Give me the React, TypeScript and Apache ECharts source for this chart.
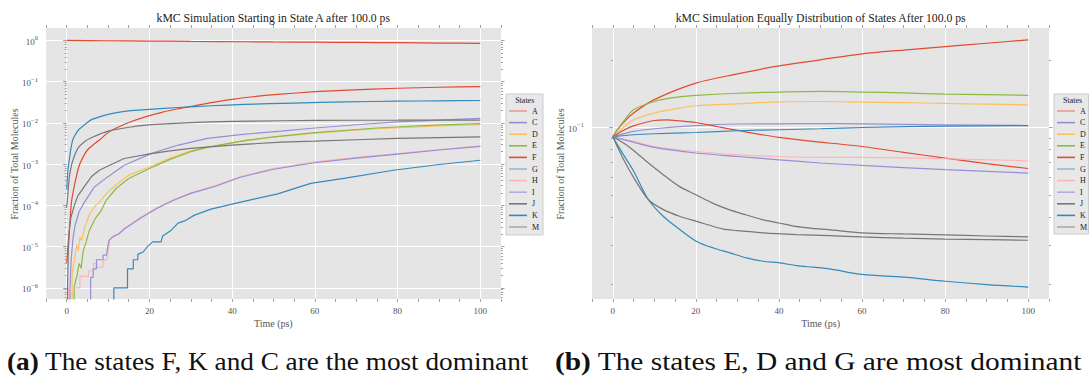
import React, { useEffect, useRef } from 'react';
import * as echarts from 'echarts';

const FONT = '"Liberation Serif", "DejaVu Serif", serif';
const STATES = ['A', 'C', 'D', 'E', 'F', 'G', 'H', 'I', 'J', 'K', 'M'];
const LINE_COLORS: Record<string, string> = {
  A: '#E24A33', C: '#988ED5', D: '#FBC15E', E: '#8EBA42', F: '#E24A33', G: '#348ABD',
  H: '#FFB5B8', I: '#988ED5', J: '#777777', K: '#348ABD', M: '#777777',
};
const LEGEND_COLORS: Record<string, string> = {
  A: '#ec9a8d', C: '#988ED5', D: '#FBC15E', E: '#8EBA42', F: '#E24A33', G: '#8ebbd8',
  H: '#FFB5B8', I: '#b3acdf', J: '#777777', K: '#348ABD', M: '#aaaaaa',
};
const LEFT_SMOOTH = ['A', 'F', 'K', 'J'];

// x axis (time, ps)
const X_MIN = -5;
const X_MAX = 105;
const X_LABELS = [0, 20, 40, 60, 80, 100];

// left chart: log y axis
const LEFT_Y_MIN = 5.37e-7;
const LEFT_Y_MAX = 1.995;
const LEFT_MAJOR = [1e-6, 1e-5, 1e-4, 1e-3, 1e-2, 1e-1, 1];
const LEFT_DECADES = [1e-7, 1e-6, 1e-5, 1e-4, 1e-3, 1e-2, 1e-1, 1];
// right chart: log y axis
const RIGHT_Y_MIN = 0.01726;
const RIGHT_Y_MAX = 0.277;
const RIGHT_MAJOR = [0.1];
const RIGHT_DECADES = [0.01, 0.1];
const MINOR_MULT = [2, 3, 4, 5, 6, 7, 8, 9];

// ---------- left chart: start in state A ----------
const leftA = [[0, 1.0], [10, 0.98], [20, 0.963], [30, 0.945], [43, 0.925], [50, 0.915], [60, 0.905], [70, 0.893], [80, 0.878], [90, 0.862], [100, 0.846]];
const leftF = [[0, 4e-6], [0.3, 1e-5], [0.64, 2.5e-5], [0.9, 6e-5], [1.2, 1.3e-4], [2, 3.5e-4], [3, 9e-4], [4, 1.5e-3], [5, 2.2e-3], [6.5, 3e-3], [8, 3.9e-3], [10, 5.8e-3], [12, 7.5e-3], [15, 1.02e-2], [19, 1.4e-2], [23, 1.8e-2], [27, 2.2e-2], [30, 2.5e-2], [35, 3.1e-2], [40, 3.7e-2], [45, 4.3e-2], [51, 4.9e-2], [60, 5.7e-2], [68, 6.2e-2], [80, 6.9e-2], [90, 7.3e-2], [100, 7.6e-2]];
const leftK = [[0, 2.4e-4], [0.3, 7e-4], [0.65, 1.3e-3], [1, 2.3e-3], [1.45, 3.8e-3], [2, 5e-3], [3, 7e-3], [4.7, 9.7e-3], [6, 1.2e-2], [7.9, 1.4e-2], [10, 1.6e-2], [15, 1.95e-2], [20, 2.12e-2], [27, 2.36e-2], [35, 2.6e-2], [43, 2.8e-2], [55, 3.02e-2], [67.6, 3.23e-2], [80, 3.35e-2], [90, 3.43e-2], [100, 3.49e-2]];
const leftJ = [[0, 8.9e-5], [0.3, 2e-4], [0.65, 4.9e-4], [1.45, 1.2e-3], [2.7, 2.4e-3], [4.3, 3.5e-3], [6.5, 4.6e-3], [10, 6.3e-3], [14, 7.5e-3], [19, 8.8e-3], [25, 9.6e-3], [35, 1.06e-2], [45, 1.1e-2], [60, 1.15e-2], [80, 1.16e-2], [100, 1.17e-2]];
const leftC = [[0.8, 1e-9], [0.8, 1e-6], [1.1, 5e-6], [1.5, 1.5e-5], [2, 3.2e-5], [3, 7e-5], [4.3, 1.2e-4], [6.7, 2.8e-4], [9.9, 4.9e-4], [13.9, 9.4e-4], [20.4, 1.8e-3], [27, 2.9e-3], [34, 4.2e-3], [42, 5.2e-3], [51.8, 6.3e-3], [60, 7.5e-3], [70, 9e-3], [80, 1.06e-2], [90, 1.17e-2], [100, 1.28e-2]];
const leftM = [[0.2, 1e-9], [0.2, 1e-6], [0.4, 8e-6], [0.65, 2.5e-5], [1, 5e-5], [1.85, 1e-4], [2.7, 1.7e-4], [4.3, 2.9e-4], [6, 5e-4], [7.9, 7.1e-4], [10, 9e-4], [13.9, 1.37e-3], [20.4, 1.8e-3], [25, 2.1e-3], [30, 2.4e-3], [40, 2.9e-3], [51.8, 3.4e-3], [60, 3.6e-3], [70, 3.9e-3], [80, 4.2e-3], [90, 4.4e-3], [100, 4.6e-3]];
const leftD = [[1.3, 1e-9], [1.3, 2e-6], [1.5, 3e-6], [2, 5.6e-6], [2.4, 1.1e-5], [2.8, 8e-6], [3.2, 1.7e-5], [3.6, 1.4e-5], [4.2, 2.6e-5], [5.5, 6e-5], [7, 1e-4], [8, 1.2e-4], [9.5, 1.9e-4], [12, 3.2e-4], [15, 5.4e-4], [20, 8.5e-4], [25, 1.4e-3], [30, 2.1e-3], [34, 2.6e-3], [43, 3.7e-3], [50, 4.5e-3], [60, 5.6e-3], [75, 7.2e-3], [90, 8.4e-3], [100, 9.1e-3]];
const leftE = [[1.8, 1e-9], [1.8, 1.05e-6], [2.5, 2e-6], [3, 3.9e-6], [3.5, 3e-6], [4, 8e-6], [4.6, 1.2e-5], [5.5, 2.5e-5], [7, 5e-5], [8.2, 7e-5], [9.5, 1.3e-4], [12, 2.6e-4], [15, 4.5e-4], [20, 7.8e-4], [25, 1.3e-3], [30, 2e-3], [34, 2.55e-3], [43, 3.7e-3], [50, 4.6e-3], [60, 5.8e-3], [75, 7.5e-3], [90, 8.9e-3], [100, 9.6e-3]];
const leftH = [[0.4, 1e-9], [0.4, 1e-6], [3.2, 1e-6], [3.2, 1.9e-6], [5.3, 1.9e-6], [5.3, 2.6e-6], [6.5, 2.6e-6], [6.5, 3.9e-6], [7.2, 3.9e-6], [7.2, 3.2e-6], [8.8, 3.2e-6], [8.8, 4.5e-6], [9.8, 5e-6], [10.4, 1.4e-5], [11.6, 1.9e-5], [12.5, 2e-5], [14, 2.8e-5], [16, 3.8e-5], [18, 5.2e-5], [22, 9e-5], [26, 1.4e-4], [30, 2e-4], [36, 3e-4], [42, 5e-4], [50, 7.8e-4], [60, 1.13e-3], [70, 1.45e-3], [80, 1.8e-3], [90, 2.25e-3], [100, 2.77e-3]];
const leftI = [[5.8, 1e-9], [5.8, 1.8e-6], [6.4, 1.8e-6], [6.4, 2.9e-6], [7.2, 2.9e-6], [7.2, 4.8e-6], [8.8, 4.8e-6], [8.8, 6.2e-6], [9.6, 6.2e-6], [10.2, 1.4e-5], [11, 1.7e-5], [12.5, 2e-5], [14, 2.7e-5], [16, 3.7e-5], [18, 5e-5], [22, 8.6e-5], [26, 1.35e-4], [30, 1.95e-4], [36, 2.9e-4], [42, 4.8e-4], [50, 7.5e-4], [60, 1.08e-3], [70, 1.4e-3], [80, 1.75e-3], [90, 2.2e-3], [100, 2.7e-3]];
const leftG = [[11.4, 1e-9], [11.4, 1e-6], [14.7, 1e-6], [14.7, 2.9e-6], [16.1, 2.9e-6], [16.1, 4.8e-6], [17.2, 4.8e-6], [17.2, 6.5e-6], [18.5, 7.4e-6], [19.5, 1e-5], [20.8, 1.3e-5], [22.8, 1.3e-5], [23.2, 1.8e-5], [25.3, 2.5e-5], [26.9, 3.7e-5], [28.5, 4.2e-5], [30.9, 5.8e-5], [34.9, 8.1e-5], [40.5, 1.1e-4], [45, 1.4e-4], [51, 1.9e-4], [59, 3.4e-4], [67, 4.5e-4], [79, 7.1e-4], [90, 9.8e-4], [100, 1.24e-3]];

// ---------- right chart: equal start distribution ----------
const rightA = [[0, 0.0909], [1, 0.097], [2.5, 0.105], [5, 0.116], [10, 0.133], [20, 0.1575], [30, 0.173], [40, 0.188], [50, 0.2], [60, 0.2126], [70, 0.221], [80, 0.229], [90, 0.237], [100, 0.2454]];
const rightE = [[0, 0.0909], [1, 0.097], [2.5, 0.106], [5, 0.1199], [10, 0.1305], [15, 0.136], [20, 0.1388], [30, 0.142], [40, 0.1437], [50, 0.1446], [60, 0.1437], [70, 0.1425], [80, 0.1407], [90, 0.14], [100, 0.139]];
const rightD = [[0, 0.0909], [2.5, 0.1], [5, 0.1082], [10, 0.1159], [15, 0.121], [20, 0.1249], [30, 0.1274], [40, 0.13], [50, 0.1305], [60, 0.1297], [70, 0.129], [80, 0.1279], [90, 0.127], [100, 0.1261]];
const rightF = [[0, 0.0909], [2.5, 0.097], [5, 0.1017], [10, 0.1074], [13, 0.108], [16, 0.107], [20, 0.1052], [25, 0.101], [30, 0.097], [40, 0.0903], [52, 0.0853], [60, 0.0823], [70, 0.0775], [80, 0.0731], [90, 0.069], [100, 0.0657]];
const rightC = [[0, 0.0909], [5, 0.096], [10, 0.0987], [20, 0.102], [30, 0.1036], [40, 0.1038], [50, 0.104], [60, 0.1038], [80, 0.1028], [100, 0.102]];
const rightG = [[0, 0.0909], [5, 0.0928], [10, 0.0938], [20, 0.095], [30, 0.0967], [40, 0.0977], [50, 0.0987], [60, 0.1], [80, 0.1014], [100, 0.102]];
const rightH = [[0, 0.0909], [5, 0.0867], [10, 0.0823], [20, 0.0782], [30, 0.0756], [40, 0.0743], [50, 0.0736], [60, 0.0736], [80, 0.0726], [100, 0.0711]];
const rightI = [[0, 0.0909], [5, 0.086], [10, 0.0815], [20, 0.077], [30, 0.0743], [40, 0.0718], [50, 0.0695], [60, 0.0678], [80, 0.0649], [100, 0.0627]];
const rightJ = [[0, 0.0909], [2.6, 0.0852], [5, 0.079], [8, 0.071], [12, 0.062], [16, 0.0547], [20, 0.0502], [24, 0.0461], [28, 0.0431], [32, 0.0409], [36, 0.0389], [40, 0.0376], [44, 0.0363], [48, 0.0356], [52, 0.0351], [60, 0.034], [70, 0.0336], [80, 0.0333], [90, 0.0329], [100, 0.0326]];
const rightM = [[0, 0.0909], [2.6, 0.072], [5, 0.06], [8.6, 0.0477], [12.2, 0.0431], [16.2, 0.0402], [20.2, 0.0382], [26.6, 0.0353], [30, 0.0348], [36.2, 0.034], [44.2, 0.0334], [52.2, 0.033], [60, 0.0326], [70, 0.0322], [80, 0.0319], [90, 0.0317], [100, 0.0315]];
const rightK = [[0, 0.0909], [2.6, 0.0755], [5, 0.064], [8.6, 0.0477], [12.2, 0.0402], [16.2, 0.0351], [20.2, 0.0311], [24.2, 0.0291], [28.2, 0.0277], [32.2, 0.0263], [36.2, 0.0254], [40.2, 0.025], [44.2, 0.0243], [48.2, 0.0239], [52.2, 0.0235], [60, 0.0222], [70, 0.0216], [80, 0.0207], [90, 0.02], [100, 0.0195]];

const LEFT_SERIES: Record<string, number[][]> = { A: leftA, C: leftC, D: leftD, E: leftE, F: leftF, G: leftG, H: leftH, I: leftI, J: leftJ, K: leftK, M: leftM };
const RIGHT_SERIES: Record<string, number[][]> = { A: rightA, C: rightC, D: rightD, E: rightE, F: rightF, G: rightG, H: rightH, I: rightI, J: rightJ, K: rightK, M: rightM };

const TICK_COLOR = '#a0a0a0';
const LABEL_COLOR = '#555555';
const T = 'rgba(0,0,0,0)';

function minorTicks(decades: number[], lo: number, hi: number) {
  const out: number[] = [];
  decades.forEach((d) => MINOR_MULT.forEach((m) => {
    const v = +(d * m).toPrecision(3);
    if (v > lo && v < hi) out.push(v);
  }));
  return out;
}

function logLabel(v: number) {
  const e = Math.round(Math.log10(v));
  const s = e < 0 ? '\u2212' + -e : String(e);
  return '{b|10}{s|' + s + '}';
}

const LOG_RICH = {
  b: { fontSize: 9, fontFamily: FONT, color: LABEL_COLOR, lineHeight: 12, verticalAlign: 'bottom' },
  s: { fontSize: 6.5, fontFamily: FONT, color: LABEL_COLOR, lineHeight: 12, verticalAlign: 'top' },
};

function xAxes(gridIndex: number) {
  const base = {
    type: 'value', gridIndex, min: X_MIN, max: X_MAX, interval: 5,
    axisLine: { show: false },
    axisTick: { show: true, inside: false, length: 3, lineStyle: { color: TICK_COLOR, width: 1 } },
  };
  return [
    {
      ...base, position: 'bottom',
      axisLabel: {
        show: true, margin: 7, fontSize: 9, fontFamily: FONT, color: LABEL_COLOR,
        formatter: (v: number) => (X_LABELS.indexOf(v) >= 0 ? String(v) : ''),
      },
      splitLine: { show: true, lineStyle: { color: [T, '#ffffff', T, T], width: 1 } },
    },
    { ...base, position: 'top', axisLabel: { show: false }, splitLine: { show: false } },
  ];
}

function yAxes(gridIndex: number, min: number, max: number, major: number[], minor: number[]) {
  const base = { type: 'log', logBase: 10, gridIndex, min, max, axisLine: { show: false }, splitLine: { show: false }, axisLabel: { show: false } };
  return [
    {
      ...base, position: 'left',
      axisTick: { show: true, length: 3.5, customValues: major, lineStyle: { color: TICK_COLOR } },
      axisLabel: { show: true, customValues: major, margin: 8, formatter: logLabel, rich: LOG_RICH },
      splitLine: { show: true, lineStyle: { color: '#ffffff', width: 1 } },
    },
    { ...base, position: 'left', axisTick: { show: true, length: 2, customValues: minor, lineStyle: { color: TICK_COLOR } } },
    { ...base, position: 'right', axisTick: { show: true, length: 3.5, customValues: major, lineStyle: { color: TICK_COLOR } } },
    { ...base, position: 'right', axisTick: { show: true, length: 2, customValues: minor, lineStyle: { color: TICK_COLOR } } },
  ];
}

function makeSeries(data: Record<string, number[][]>, xAxisIndex: number, yAxisIndex: number, smoothSet: string[], smooth: number) {
  return STATES.map((s) => ({
    type: 'line', name: s, data: data[s], xAxisIndex, yAxisIndex,
    showSymbol: false, symbol: 'none', clip: true,
    smooth: smoothSet.indexOf(s) >= 0 ? smooth : false,
    lineStyle: { color: LINE_COLORS[s], width: 1.2 },
    itemStyle: { color: LINE_COLORS[s] },
    emphasis: { disabled: true },
  }));
}

function legendFor(left: number) {
  return {
    data: STATES.map((s) => ({ name: s, itemStyle: { color: LEGEND_COLORS[s] } })),
    orient: 'vertical', left, top: 105.2, padding: 0,
    itemWidth: 18, itemHeight: 1.6, itemGap: 0, icon: 'rect', selectedMode: false, z: 10,
    textStyle: { fontSize: 8, lineHeight: 11.6, fontFamily: FONT, color: '#222' },
  };
}

function text(x: number, y: number, str: string, size: number, fill: string, extra: any = {}) {
  return {
    type: 'text', x, y, z: 20, ...extra,
    style: { text: str, fontSize: size, fontFamily: FONT, fill, align: 'center', verticalAlign: 'middle' },
  };
}

function caption(x: number, scaleX: number, tag: string, body: string) {
  return {
    type: 'text', x, y: 362, z: 20, scaleX,
    style: {
      text: '{b|' + tag + '}{n| ' + body + '}', fontSize: 25, fontFamily: FONT, fill: '#111',
      align: 'left', verticalAlign: 'middle',
      rich: {
        b: { fontSize: 25, fontWeight: 'bold', fontFamily: FONT, fill: '#111' },
        n: { fontSize: 25, fontFamily: FONT, fill: '#111' },
      },
    },
  };
}

export default function App() {
  const ref = useRef<HTMLDivElement>(null);
  useEffect(() => {
    if (!ref.current) return;
    const chart = echarts.init(ref.current, undefined, { renderer: 'svg' });
    const leftMinor = minorTicks(LEFT_DECADES, LEFT_Y_MIN, LEFT_Y_MAX);
    const rightMinor = minorTicks(RIGHT_DECADES, RIGHT_Y_MIN, RIGHT_Y_MAX);
    const option: any = {
      animation: false,
      backgroundColor: '#ffffff',
      grid: [
        { left: 46, top: 28, width: 455, height: 271, show: true, backgroundColor: '#E5E5E5', borderWidth: 0 },
        { left: 592, top: 28, width: 457, height: 271, show: true, backgroundColor: '#E5E5E5', borderWidth: 0 },
      ],
      xAxis: [...xAxes(0), ...xAxes(1)],
      yAxis: [
        ...yAxes(0, LEFT_Y_MIN, LEFT_Y_MAX, LEFT_MAJOR, leftMinor),
        ...yAxes(1, RIGHT_Y_MIN, RIGHT_Y_MAX, RIGHT_MAJOR, rightMinor),
      ],
      legend: [legendFor(509), legendFor(1057)],
      series: [...makeSeries(LEFT_SERIES, 0, 0, LEFT_SMOOTH, 0.2), ...makeSeries(RIGHT_SERIES, 2, 4, STATES, 0.3)],
      graphic: [
        { type: 'rect', z: 1, shape: { x: 506, y: 94, width: 37, height: 141 }, style: { fill: '#e8e8e8', stroke: '#cccccc', lineWidth: 1 } },
        { type: 'rect', z: 1, shape: { x: 1054, y: 94, width: 34.5, height: 140 }, style: { fill: '#e8e8e8', stroke: '#cccccc', lineWidth: 1 } },
        text(524.7, 100.5, 'States', 8, '#222'),
        text(1072.5, 100.5, 'States', 8, '#222'),
        text(273.3, 18, 'kMC Simulation Starting in State A after 100.0 ps', 11.7, '#222'),
        text(820.6, 18, 'kMC Simulation Equally Distribution of States After 100.0 ps', 11.7, '#222'),
        text(273.3, 323, 'Time (ps)', 10, LABEL_COLOR),
        text(820.6, 323, 'Time (ps)', 10, LABEL_COLOR),
        text(14, 164, 'Fraction of Total Molecules', 10, LABEL_COLOR, { rotation: Math.PI / 2 }),
        text(560, 164, 'Fraction of Total Molecules', 10, LABEL_COLOR, { rotation: Math.PI / 2 }),
        caption(7, 1.09, '(a)', 'The states F, K and C are the most dominant'),
        caption(555, 1.175, '(b)', 'The states E, D and G are most dominant'),
      ],
    };
    chart.setOption(option);
    return () => chart.dispose();
  }, []);
  return <div ref={ref} style={{ position: 'absolute', left: 0, top: 0, width: 1089, height: 383 }} />;
}
